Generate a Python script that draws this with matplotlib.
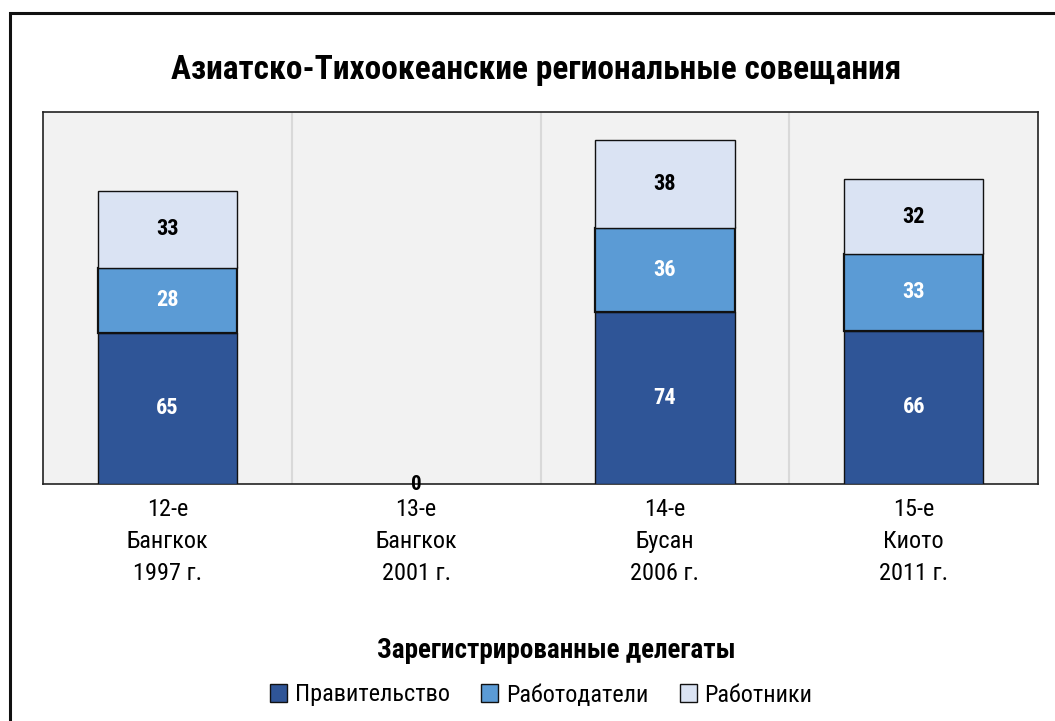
import matplotlib
matplotlib.use("Agg")
import matplotlib.pyplot as plt
from matplotlib import font_manager as fm
from matplotlib.patches import Rectangle
import numpy as np

names = {f.name for f in fm.fontManager.ttflist}
fam = 'Liberation Sans Narrow' if 'Liberation Sans Narrow' in names else 'Roboto Condensed' if 'Roboto Condensed' in names else 'Liberation Sans'
plt.rcParams['font.family'] = [fam, 'DejaVu Sans']

categories = ["12-е\nБангкок\n1997 г.", "13-е\nБангкок\n2001 г.", "14-е\nБусан\n2006 г.", "15-е\nКиото\n2011 г."]
government = [65, 0, 74, 66]
employers = [28, 0, 36, 33]
workers = [33, 0, 38, 32]
series_names = ["Правительство", "Работодатели", "Работники"]
title = "Азиатско-Тихоокеанские региональные совещания"
legend_title = "Зарегистрированные делегаты"

colors = ["#2F5597", "#5B9BD5", "#DAE3F3"]
label_colors = ["white", "white", "black"]
edge_w = [1.0, 1.6, 1.0]

fig = plt.figure(figsize=(10.55, 7.21), dpi=100)
fig.patch.set_facecolor("white")
ax = fig.add_axes([43/1055, 1-484/721, (1038-43)/1055, (484-112)/721])
ax.set_facecolor("#F2F2F2")

x = np.arange(len(categories))
w = 0.56
bottom = np.zeros(len(categories))
handles = []
for vals, c, lc, ew, nm in zip([government, employers, workers], colors, label_colors, edge_w, series_names):
    vals = np.array(vals, dtype=float)
    ecs = ["#111111" if v > 0 else "none" for v in vals]
    bars = ax.bar(x, vals, w, bottom=bottom, color=c, edgecolor=ecs, linewidth=ew, label=nm, zorder=3)
    for xi, v, b in zip(x, vals, bottom):
        if v > 0:
            ax.text(xi, b + v/2, f"{int(v)}", ha="center", va="center", color=lc,
                    fontsize=16, fontweight="bold", zorder=4)
    handles.append(bars)
    bottom += vals

totals = bottom
for xi, t in zip(x, totals):
    if t == 0:
        ax.text(xi, 0, "0", ha="center", va="center", color="black", fontsize=15, fontweight="bold",
                zorder=5, clip_on=False)

ax.set_xlim(-0.5, len(categories) - 0.5)
ax.set_ylim(0, 160)
ax.set_yticks([])
ax.set_xticks(x)
ax.set_xticklabels(categories, fontsize=17.5, linespacing=1.5)
ax.tick_params(axis="x", length=0, pad=10)
for b in np.arange(0.5, len(categories) - 0.5, 1):
    ax.axvline(b, color="#D9D9D9", linewidth=1.5, zorder=1)
for s in ax.spines.values():
    s.set_color("#222222")
    s.set_linewidth(1.2)

fig.text(0.508, 1-70/721, title, ha="center", va="center", fontsize=24, fontweight="bold")
fig.text(0.527, 1-651/721, legend_title, ha="center", va="center", fontsize=19.5, fontweight="bold")
handles_leg = [Rectangle((0, 0), 1, 1, facecolor=c, edgecolor="#111111", linewidth=1.0) for c in colors]
leg = fig.legend(handles_leg, series_names, loc="center", bbox_to_anchor=(0.513, 1-695/721), ncol=3,
                 frameon=False, fontsize=17.5, handlelength=0.7, handleheight=0.7,
                 handletextpad=0.3, columnspacing=1.3)

fig.patches.append(Rectangle((10/1055, -0.05), 1.2, 1-13/721+0.05, transform=fig.transFigure,
                             fill=False, edgecolor="#111111", linewidth=2.2))

fig.savefig("out.png", dpi=100)
